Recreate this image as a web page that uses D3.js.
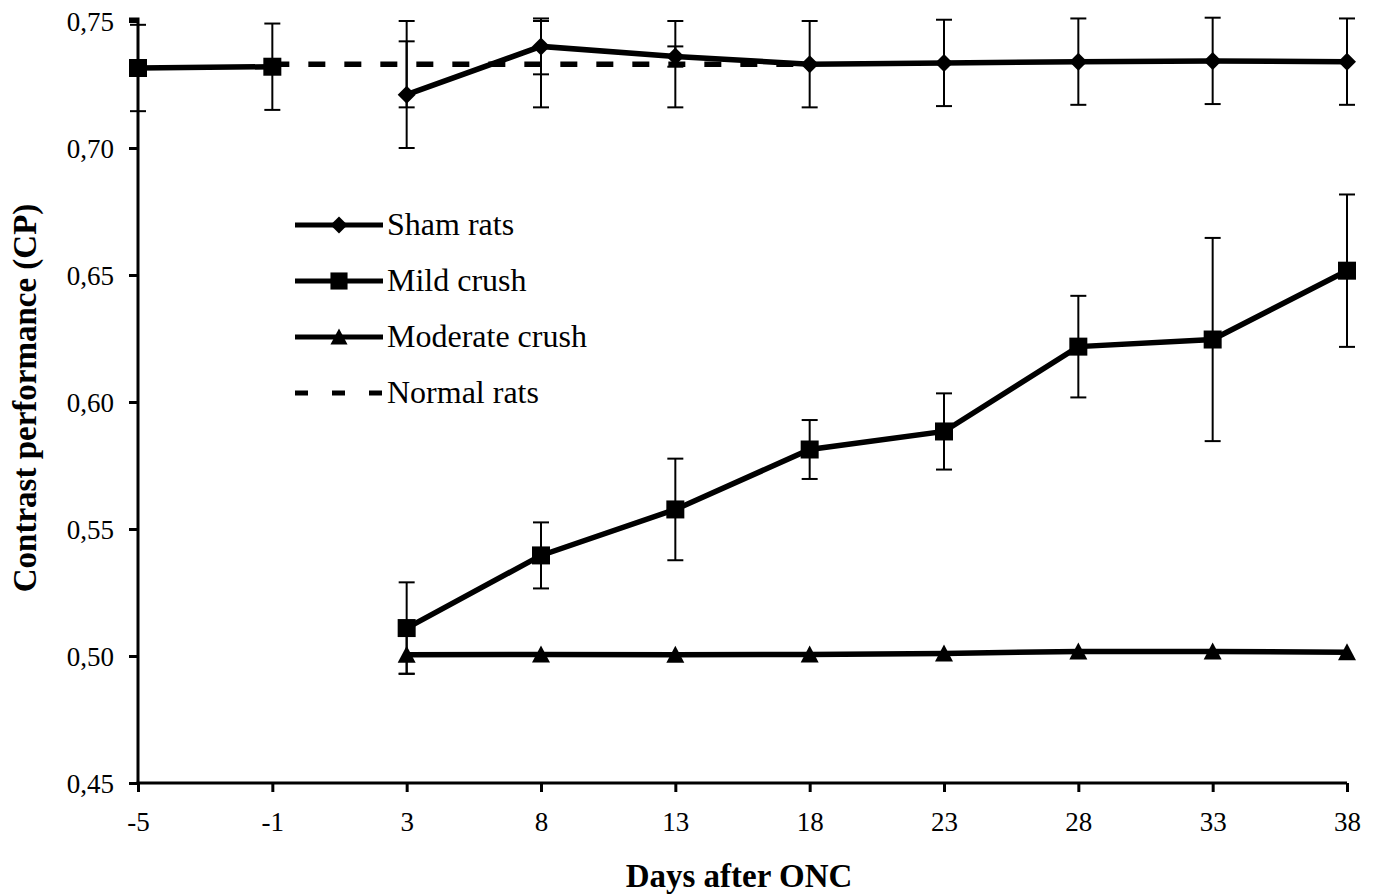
<!DOCTYPE html>
<html>
<head>
    <title>Contrast performance after ONC</title>
    <script src="https://d3js.org/d3.v7.min.js"></script>
    <style>
        body { margin: 0; background: #fff; }
        text { font-family: "Liberation Serif", "Times New Roman", serif; fill: #000; }
        .tick-label { font-size: 27px; }
        .axis-title { font-size: 33px; font-weight: bold; }
        .legend-label { font-size: 32px; }
    </style>
</head>
<body>
<script>
    // days after optic nerve crush, evenly spaced categories
    var days = ["-5", "-1", "3", "8", "13", "18", "23", "28", "33", "38"];
    var yTicks = [0.45, 0.50, 0.55, 0.60, 0.65, 0.70, 0.75];

    // null = no measurement on that day
    var shamValues  = [null, null, 0.721, 0.740, 0.736, 0.733, 0.7335, 0.734, 0.7343, 0.734];
    var shamErrors  = [null, null, 0.021, 0.011, 0.004, 0.017, 0.017, 0.017, 0.017, 0.017];

    // mild crush: pre-crush baseline (-5, -1) is drawn apart from the post-crush curve
    var mildValues  = [0.7315, 0.732, 0.511, 0.5396, 0.5577, 0.5813, 0.5884, 0.6218, 0.6246, 0.6517];
    var mildErrors  = [0.017, 0.017, 0.018, 0.013, 0.020, 0.0116, 0.015, 0.020, 0.040, 0.030];
    var crushDay = "3";

    var moderateValues = [null, null, 0.5005, 0.5006, 0.5005, 0.5006, 0.501, 0.5018, 0.5018, 0.5015];
    var moderateErrors = [null, null, 0.0075, 0, 0, 0, 0, 0, 0, 0];

    var normalValues = [null, 0.733, 0.733, 0.733, 0.733, 0.733, null, null, null, null];
    var normalErrors = [null, 0, 0.017, 0.017, 0.017, 0, null, null, null, null];

    var width = 1375, height = 894;
    var plotLeft = 138, plotRight = 1347, plotTop = 21, plotBottom = 783;

    var svg = d3.select("body").append("svg")
        .attr("width", width)
        .attr("height", height);

    var x = d3.scalePoint()
        .domain(days)
        .range([plotLeft, plotRight]);

    var y = d3.scaleLinear()
        .domain([0.45, 0.75])
        .range([plotBottom, plotTop]);

    var fmt = function(v) { return d3.format(".2f")(v).replace(".", ","); };

    function pts(values, errors) {
        return days.map(function(d, i) {
            return {day: d, v: values[i], e: errors[i]};
        }).filter(function(p) { return p.v != null; });
    }

    // split a series in two pieces at a given day
    function splitAt(data, day) {
        var k = data.findIndex(function(p) { return p.day === day; });
        return [data.slice(0, k), data.slice(k)];
    }

    var series = [
        {name: "Normal rats", data: pts(normalValues, normalErrors), marker: null, dash: "17,19"},
        {name: "Moderate crush", data: pts(moderateValues, moderateErrors), marker: "triangle"},
        {name: "Mild crush", data: pts(mildValues, mildErrors), marker: "square", breakAt: crushDay},
        {name: "Sham rats", data: pts(shamValues, shamErrors), marker: "diamond"}
    ];

    var line = d3.line()
        .x(function(p) { return x(p.day); })
        .y(function(p) { return y(p.v); });

    // axes
    var yAxis = d3.axisLeft(y).tickValues(yTicks).tickFormat(fmt).tickSize(9).tickPadding(15);
    var gy = svg.append("g").attr("transform", "translate(" + plotLeft + ",0)").call(yAxis);
    gy.attr("font-size", null).attr("font-family", null);
    gy.select(".domain").attr("stroke-width", 3).attr("d", "M-9," + (plotTop - 2) + "H0V" + plotBottom);
    gy.selectAll(".tick line").attr("stroke-width", 3);
    gy.selectAll(".tick text").attr("class", "tick-label").attr("dy", "0.34em");

    var xAxis = d3.axisBottom(x).tickSize(9).tickPadding(20);
    var gx = svg.append("g").attr("transform", "translate(0," + plotBottom + ")").call(xAxis);
    gx.attr("font-size", null).attr("font-family", null);
    gx.select(".domain").attr("stroke-width", 3).attr("d", "M" + (plotLeft - 1.5) + ",0H" + plotRight);
    gx.selectAll(".tick line").attr("stroke-width", 3);
    gx.selectAll(".tick text").attr("class", "tick-label");

    // error bars
    var errG = svg.append("g").attr("stroke", "#000").attr("stroke-width", 2);
    series.forEach(function(s) {
        s.data.filter(function(p) { return p.e > 0; }).forEach(function(p) {
            var cx = x(p.day), y1 = y(p.v + p.e), y2 = y(p.v - p.e);
            errG.append("line").attr("x1", cx).attr("x2", cx).attr("y1", y1).attr("y2", y2);
            errG.append("line").attr("x1", cx - 8).attr("x2", cx + 8).attr("y1", y1).attr("y2", y1);
            errG.append("line").attr("x1", cx - 8).attr("x2", cx + 8).attr("y1", y2).attr("y2", y2);
        });
    });

    var symbols = {
        diamond: "M0,-9L9,0L0,9L-9,0Z",
        square: "M-9,-9H9V9H-9Z",
        triangle: "M0,-9L9,8H-9Z"
    };

    // lines and markers
    series.forEach(function(s) {
        var pieces = s.breakAt ? splitAt(s.data, s.breakAt) : [s.data];
        pieces.forEach(function(piece) {
            svg.append("path")
                .datum(piece)
                .attr("d", line)
                .attr("fill", "none")
                .attr("stroke", "#000")
                .attr("stroke-width", 5.5)
                .attr("stroke-dasharray", s.dash || null);
        });
        if (s.marker) {
            svg.append("g").selectAll("path")
                .data(s.data)
                .enter()
                .append("path")
                .attr("transform", function(p) { return "translate(" + x(p.day) + "," + y(p.v) + ")"; })
                .attr("d", symbols[s.marker])
                .attr("fill", "#000");
        }
    });

    // legend
    var legendItems = [
        {name: "Sham rats", marker: "diamond"},
        {name: "Mild crush", marker: "square"},
        {name: "Moderate crush", marker: "triangle"},
        {name: "Normal rats", marker: null, dash: "13,24"}
    ];
    var lg = svg.append("g").attr("transform", "translate(295,225)");
    legendItems.forEach(function(it, i) {
        var row = lg.append("g").attr("transform", "translate(0," + (i * 56) + ")");
        row.append("line")
            .attr("x1", 0).attr("x2", 88)
            .attr("stroke", "#000").attr("stroke-width", 5)
            .attr("stroke-dasharray", it.dash || null);
        if (it.marker) {
            row.append("path")
                .attr("transform", "translate(44,0) scale(0.95)")
                .attr("d", symbols[it.marker]);
        }
        row.append("text")
            .attr("class", "legend-label")
            .attr("x", 92)
            .attr("y", 10)
            .text(it.name);
    });

    // axis titles
    svg.append("text")
        .attr("class", "axis-title")
        .attr("x", 739)
        .attr("y", 887)
        .attr("text-anchor", "middle")
        .text("Days after ONC");

    svg.append("text")
        .attr("class", "axis-title")
        .attr("transform", "translate(36,398) rotate(-90)")
        .attr("text-anchor", "middle")
        .text("Contrast performance (CP)");
</script>
</body>
</html>
